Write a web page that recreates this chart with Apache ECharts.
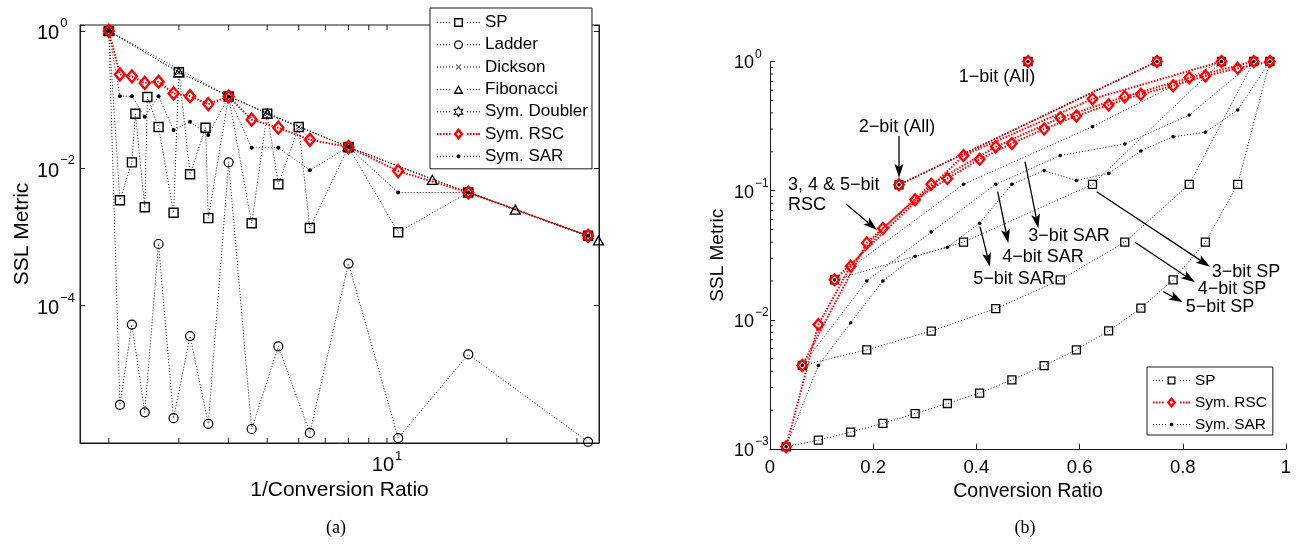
<!DOCTYPE html>
<html>
<head>
<meta charset="utf-8">
<title>SSL Metric</title>
<script src="https://cdn.jsdelivr.net/npm/echarts@6.0.0/dist/echarts.min.js"></script>
<style>
  html, body { margin: 0; padding: 0; background: #fff; }
  #chart { width: 1299px; height: 546px; }
</style>
</head>
<body>
<div id="chart"></div>
<script>
// ---------------- Panel (a): SSL metric against 1/conversion ratio ----------------
// 1/ratio on the 5-bit grid k/32, k = 16 ... 1
const invRatioA = [2, 2.133, 2.286, 2.462, 2.667, 2.909, 3.2, 3.556, 4, 4.571, 5.333, 6.4, 8, 10.667, 16, 32];
const rscA      = [1, 0.232, 0.218, 0.175, 0.182, 0.123, 0.112, 0.086, 0.111, 0.051, 0.039, 0.026, 0.0204, 0.0091, 0.00444, 0.00104];
const sarA      = [1, 0.112, 0.112, 0.0561, 0.112, 0.0362, 0.0475, 0.0305, 0.111, 0.0199, 0.0199, 0.0094, 0.0204, 0.00444, 0.00444, 0.00104];
const ladderA   = [1, 3.6e-6, 5.3e-5, 2.8e-6, 7.9e-4, 2.3e-6, 3.6e-5, 1.9e-6, 0.0122, 1.6e-6, 2.55e-5, 1.4e-6, 4.1e-4, 1.18e-6, 1.95e-5, 1.04e-6];
// series-parallel also reaches a few non-binary ratios
const invRatioSP = [2, 2.133, 2.286, 2.333, 2.462, 2.5, 2.667, 2.909, 3, 3.2, 3.5, 3.556, 4, 4.571, 5, 5.333, 6, 6.4, 8, 10.667, 16, 32];
const spA        = [1, 0.00343, 0.0122, 0.0621, 0.00271, 0.109, 0.0399, 0.00225, 0.25, 0.00819, 0.0389, 0.00188, 0.111, 0.00158, 0.0625, 0.00586, 0.04, 0.00135, 0.0204, 0.00117, 0.00444, 0.00104];
const invRatioDickson = [2, 3, 4, 5, 6, 8, 16, 32];
const dicksonA        = [1, 0.25, 0.111, 0.0625, 0.04, 0.0204, 0.00444, 0.00104];
const invRatioFib = [2, 3, 5, 8, 13, 21, 34];
const fibA        = [1, 0.25, 0.0625, 0.0204, 0.0068, 0.0025, 0.00089];
const invRatioDoubler = [2, 4, 8, 16, 32];
const doublerA        = [1, 0.111, 0.0204, 0.00444, 0.00104];
const xTicksA = [2, 3, 4, 5, 6, 7, 8, 9, 10, 20, 30];

// ---------------- Panel (b): SSL metric against conversion ratio ----------------
// values at the odd-numerator ratios k/2^n of each resolution n
const allOneBit = [1];
const allTwoBit = [0.111, 1];
const spThree  = [0.0204, 0.0399, 0.112, 1];
const spFour   = [0.00444, 0.00586, 0.00819, 0.0122, 0.0204, 0.0399, 0.112, 1];
const spFive   = [0.00104, 0.00117, 0.00135, 0.00158, 0.00188, 0.00225, 0.00271, 0.00343, 0.00442, 0.00585, 0.0082, 0.0123, 0.0204, 0.0399, 0.112, 1];
const rscThree = [0.0204, 0.187, 0.513, 1];
const rscFour  = [0.00444, 0.0394, 0.112, 0.219, 0.367, 0.534, 0.749, 1];
const rscFive  = [0.00104, 0.0092, 0.026, 0.051, 0.085, 0.124, 0.175, 0.232, 0.30, 0.379, 0.461, 0.557, 0.650, 0.773, 0.886, 1];
const sarThree = [0.0204, 0.112, 0.313, 1];
const sarFour  = [0.00444, 0.0200, 0.0478, 0.112, 0.187, 0.230, 0.385, 1];
const sarFive  = [0.00104, 0.00443, 0.0095, 0.0200, 0.031, 0.0365, 0.056, 0.112, 0.143, 0.120, 0.136, 0.203, 0.262, 0.283, 0.421, 1];
const yMinorTicksB = [0.002, 0.003, 0.004, 0.005, 0.006, 0.007, 0.008, 0.009,
                      0.02, 0.03, 0.04, 0.05, 0.06, 0.07, 0.08, 0.09,
                      0.2, 0.3, 0.4, 0.5, 0.6, 0.7, 0.8, 0.9];
// annotation arrows: [fromRatio, fromSSL, toRatio, toSSL]
const arrowsB = [
  [0.25, 0.265, 0.25, 0.1254],
  [0.1473, 0.0789, 0.2074, 0.0496],
  [0.4942, 0.1677, 0.5200, 0.0512],
  [0.4413, 0.0982, 0.4618, 0.0392],
  [0.4070, 0.0526, 0.4264, 0.0258],
  [0.6331, 0.0982, 0.8527, 0.0258],
  [0.7074, 0.0399, 0.8236, 0.0195],
  [0.7622, 0.01653, 0.7998, 0.01368]
];
// annotation texts: [text, ratio, SSL, align]
const notesB = [
  ['1\u2212bit (All)', 0.4399, 0.759, 'center'],
  ['2\u2212bit (All)', 0.2461, 0.311, 'center'],
  ['3, 4 & 5\u2212bit', 0.0349, 0.1107, 'left'],
  ['RSC', 0.0349, 0.0775, 'left'],
  ['3\u2212bit SAR', 0.5795, 0.0446, 'center'],
  ['4\u2212bit SAR', 0.5291, 0.0307, 'center'],
  ['5\u2212bit SAR', 0.4729, 0.0207, 'center'],
  ['3\u2212bit SP', 0.9225, 0.0235, 'center'],
  ['4\u2212bit SP', 0.8953, 0.0173, 'center'],
  ['5\u2212bit SP', 0.8721, 0.0126, 'center']
];

// ---------------- helpers ----------------
const FONT = '"Liberation Sans", Arial, Helvetica, sans-serif';
const SERIF = '"Liberation Serif", "Times New Roman", serif';
const zip = (xs, ys) => xs.map((x, i) => [x, ys[i]]);
const ratiosOf = n => { const d = 2 ** n, r = []; for (let k = 1; k < d; k += 2) r.push(k / d); return r; };
const hollow = (c, w) => ({ color: 'rgba(0,0,0,0)', borderColor: c, borderWidth: w });
const dottedBlack = { color: '#1a1a1a', width: 1, type: [1, 2] };
const dottedRed = { color: '#ff0000', width: 2, type: [1.5, 1.5] };

const f2 = n => +n.toFixed(2);
function polyPath(pts) { return 'M' + pts.map(p => f2(p[0]) + ',' + f2(p[1])).join('L') + 'Z'; }
function ringPath(pts, t) {
  const c = [pts.reduce((s, p) => s + p[0], 0) / pts.length, pts.reduce((s, p) => s + p[1], 0) / pts.length];
  let d = Infinity;
  for (let i = 0; i < pts.length; i++) {
    const p = pts[i], q = pts[(i + 1) % pts.length];
    const ex = q[0] - p[0], ey = q[1] - p[1];
    d = Math.min(d, Math.abs((c[0] - p[0]) * ey - (c[1] - p[1]) * ex) / Math.hypot(ex, ey));
  }
  const f = Math.max(0, (d - t) / d);
  const inner = pts.map(p => [c[0] + (p[0] - c[0]) * f, c[1] + (p[1] - c[1]) * f]).reverse();
  return polyPath(pts) + polyPath(inner);
}
function circlePath(cx, cy, r, ccw) {
  const s = ccw ? 0 : 1;
  return `M${f2(cx - r)},${f2(cy)}A${r},${r},0,1,${s},${f2(cx + r)},${f2(cy)}A${r},${r},0,1,${s},${f2(cx - r)},${f2(cy)}Z`;
}
function starPts(cx, cy, R, r, n) {
  const pts = [];
  for (let i = 0; i < 2 * n; i++) {
    const a = -Math.PI / 2 + i * Math.PI / n, rad = i % 2 ? r : R;
    pts.push([cx + rad * Math.cos(a), cy + rad * Math.sin(a)]);
  }
  return pts;
}
const hexagramSymbol = 'path://' + polyPath(starPts(0, 0, 10, 10 / Math.sqrt(3), 6));

// legend icon: dotted line with the marker in the middle
function legendIcon(w, step, dw, dh, skip, marker) {
  const cx = w / 2, cy = 7;
  let d = '';
  const xs = [];
  for (let x = 0; x <= w - dw + 1e-9; x += step) xs.push(x);
  if (xs[xs.length - 1] < w - dw - 1e-9) xs.push(w - dw);
  xs.forEach(x => {
    if (x + dw > cx - skip && x < cx + skip) return;
    d += `M${f2(x)},${f2(cy - dh / 2)}h${dw}v${dh}h${-dw}z`;
  });
  return 'path://' + d + marker(cx, cy);
}
const mkSquare = (s, t) => (cx, cy) => ringPath([[cx - s / 2, cy - s / 2], [cx + s / 2, cy - s / 2], [cx + s / 2, cy + s / 2], [cx - s / 2, cy + s / 2]], t);
const mkDiamond = (w, h, t) => (cx, cy) => ringPath([[cx, cy - h / 2], [cx + w / 2, cy], [cx, cy + h / 2], [cx - w / 2, cy]], t);
const mkTriangle = (w, h, t) => (cx, cy) => ringPath([[cx, cy - h / 2], [cx + w / 2, cy + h / 2], [cx - w / 2, cy + h / 2]], t);
const mkCircleRing = (r, t) => (cx, cy) => circlePath(cx, cy, r, false) + circlePath(cx, cy, r - t, true);
const mkDot = r => (cx, cy) => circlePath(cx, cy, r, false);
const mkHexagram = (R, t) => (cx, cy) => ringPath(starPts(cx, cy, R, R / Math.sqrt(3), 6), t);
const mkCross = s => (cx, cy) => {
  let d = '';
  for (let i = -s; i <= s; i++) {
    d += `M${f2(cx + i - 0.5)},${f2(cy + i - 0.5)}h1v1h-1z`;
    if (i !== 0) d += `M${f2(cx + i - 0.5)},${f2(cy - i - 0.5)}h1v1h-1z`;
  }
  return d;
};

function powTen(v, keep, style) {
  const lg = Math.log10(v), e = Math.round(lg);
  if (Math.abs(lg - e) > 1e-6 || !keep(e)) return '';
  const exp = e < 0 ? '\u2212' + (-e) : String(e);
  return `{b|10}{${style}|${exp}}`;
}

// tick marks for the log axes (major and minor decades)
function xTickSeries(values, len) {
  return {
    type: 'custom', xAxisIndex: 0, yAxisIndex: 0, silent: true, clip: false, z: 3,
    data: values.map(v => [v, 0.001]),
    renderItem(params, api) {
      const cs = params.coordSys;
      const x = api.coord([api.value(0), api.value(1)])[0];
      const st = { stroke: '#1a1a1a', lineWidth: 1 };
      return { type: 'group', children: [
        { type: 'line', shape: { x1: x, y1: cs.y + cs.height, x2: x, y2: cs.y + cs.height - len }, style: st },
        { type: 'line', shape: { x1: x, y1: cs.y, x2: x, y2: cs.y + len }, style: st }
      ] };
    }
  };
}
function yMinorSeries(values, len) {
  return {
    type: 'custom', xAxisIndex: 1, yAxisIndex: 2, silent: true, clip: false, z: 3,
    data: values.map(v => [0.5, v]),
    renderItem(params, api) {
      const cs = params.coordSys;
      const y = api.coord([api.value(0), api.value(1)])[1];
      return { type: 'line', shape: { x1: cs.x, y1: y, x2: cs.x + len, y2: y }, style: { stroke: '#1a1a1a', lineWidth: 1 } };
    }
  };
}

const baseLine = { type: 'line', showSymbol: true, showAllSymbol: true, symbolKeepAspect: true,
  clip: false, animation: false, silent: true, emphasis: { disabled: true } };

// ---------------- series ----------------
const seriesA = [
  { name: 'SP', data: zip(invRatioSP, spA), symbol: 'rect', symbolSize: 9, itemStyle: hollow('#000', 1.4), lineStyle: dottedBlack },
  { name: 'Ladder', data: zip(invRatioA, ladderA), symbol: 'circle', symbolSize: 9, itemStyle: hollow('#000', 1.2), lineStyle: dottedBlack },
  { name: 'Dickson', data: zip(invRatioDickson, dicksonA), symbol: 'path://M0,0L10,10M0,10L10,0', symbolSize: 5, itemStyle: hollow('#000', 1), lineStyle: dottedBlack },
  { name: 'Fibonacci', data: zip(invRatioFib, fibA), symbol: 'triangle', symbolSize: [10, 9], itemStyle: hollow('#000', 1.3), lineStyle: dottedBlack },
  { name: 'Sym. Doubler', data: zip(invRatioDoubler, doublerA), symbol: hexagramSymbol, symbolSize: 11, itemStyle: hollow('#000', 1.1), lineStyle: dottedBlack },
  { name: 'Sym. RSC', data: zip(invRatioA, rscA), symbol: 'diamond', symbolSize: [10, 12], itemStyle: hollow('#ff0000', 2.4), lineStyle: dottedRed },
  { name: 'Sym. SAR', data: zip(invRatioA, sarA), symbol: 'circle', symbolSize: 4, itemStyle: { color: '#000', borderWidth: 0 }, lineStyle: dottedBlack }
].map(s => Object.assign({}, baseLine, s, { xAxisIndex: 0, yAxisIndex: 0 }));

const bitSets = (one, two, three, four, five) => [[1, one], [2, two], [3, three], [4, four], [5, five]];
const seriesB = [];
bitSets(allOneBit, allTwoBit, spThree, spFour, spFive).forEach(([n, v]) => seriesB.push(
  { name: 'SP', data: zip(ratiosOf(n), v), symbol: 'rect', symbolSize: 8, itemStyle: hollow('#000', 1.3), lineStyle: dottedBlack }));
bitSets(allOneBit, allTwoBit, rscThree, rscFour, rscFive).forEach(([n, v]) => seriesB.push(
  { name: 'Sym. RSC', data: zip(ratiosOf(n), v), symbol: 'diamond', symbolSize: [9.5, 11], itemStyle: hollow('#ff0000', 2.3), lineStyle: dottedRed }));
bitSets(allOneBit, allTwoBit, sarThree, sarFour, sarFive).forEach(([n, v]) => seriesB.push(
  { name: 'Sym. SAR', data: zip(ratiosOf(n), v), symbol: 'circle', symbolSize: 3.6, itemStyle: { color: '#000', borderWidth: 0 }, lineStyle: dottedBlack }));
seriesB.forEach((s, i) => { seriesB[i] = Object.assign({}, baseLine, s, { xAxisIndex: 1, yAxisIndex: 2 }); });

// ---------------- legends ----------------
const legendItem = (name, icon, color) => ({ name, icon, itemStyle: { color, borderWidth: 0, opacity: 1 } });
const legendA = [
  legendItem('SP', legendIcon(43, 3, 1, 1, 7, mkSquare(9, 1.4)), '#000'),
  legendItem('Ladder', legendIcon(43, 3, 1, 1, 7, mkCircleRing(4.5, 1.2)), '#000'),
  legendItem('Dickson', legendIcon(43, 3, 1, 1, 4, mkCross(2)), '#000'),
  legendItem('Fibonacci', legendIcon(43, 3, 1, 1, 7, mkTriangle(10, 9, 1.3)), '#000'),
  legendItem('Sym. Doubler', legendIcon(43, 3, 1, 1, 7, mkHexagram(6, 1.1)), '#000'),
  legendItem('Sym. RSC', legendIcon(43, 3, 1.6, 2, 7, mkDiamond(10, 12, 2.4)), '#ff0000'),
  legendItem('Sym. SAR', legendIcon(43, 3, 1, 1, 4, mkDot(2)), '#000')
];
const legendB = [
  legendItem('SP', legendIcon(37, 3, 1, 1, 6, mkSquare(8, 1.3)), '#000'),
  legendItem('Sym. RSC', legendIcon(37, 3, 1.6, 2, 7, mkDiamond(9.5, 11, 2.3)), '#ff0000'),
  legendItem('Sym. SAR', legendIcon(37, 3, 1, 1, 4, mkDot(1.8)), '#000')
];

// power-of-ten labels: base and raised exponent, both top-aligned in the line box
const richAY = {
  b: { fontFamily: FONT, fontSize: 20, lineHeight: 20, color: '#000', verticalAlign: 'top', padding: [7, 0, 5, 0] },
  e: { fontFamily: FONT, fontSize: 13, lineHeight: 13, color: '#000', verticalAlign: 'top', padding: [0, 0, 0, 1] }
};
const richAX = {
  b: { fontFamily: FONT, fontSize: 20, lineHeight: 20, color: '#000', verticalAlign: 'top', padding: [5, 0, 0, 0] },
  e: { fontFamily: FONT, fontSize: 13, lineHeight: 13, color: '#000', verticalAlign: 'top', padding: [0, 0, 0, 1] }
};
const richBY = {
  b: { fontFamily: FONT, fontSize: 18, lineHeight: 18, color: '#000', verticalAlign: 'top', padding: [6, 0, 9, 0] },
  e: { fontFamily: FONT, fontSize: 12, lineHeight: 12, color: '#000', verticalAlign: 'top', padding: [0, 0, 0, 1] }
};
const axisLineStyle = { show: true, lineStyle: { color: '#1a1a1a', width: 1 } };
const nameStyle = size => ({ fontFamily: FONT, fontSize: size, color: '#000' });

const chart = echarts.init(document.getElementById('chart'), null, { renderer: 'canvas' });
const option = {
  backgroundColor: '#fff',
  animation: false,
  grid: [
    { left: 80, top: 25, width: 519, height: 418, show: true, borderColor: '#1a1a1a', borderWidth: 1, backgroundColor: 'transparent', containLabel: false, outerBoundsMode: 'none' },
    { left: 770, top: 61.5, width: 516, height: 387.5, show: false, containLabel: false, outerBoundsMode: 'none' }
  ],
  xAxis: [
    { type: 'log', gridIndex: 0, min: 1.693, max: 34.09, logBase: 10,
      axisLine: axisLineStyle, axisTick: { show: false }, splitLine: { show: false }, minorTick: { show: false },
      axisLabel: { margin: 7, formatter: v => powTen(v, () => true, 'e'), rich: richAX, hideOverlap: false },
      name: '1/Conversion Ratio', nameLocation: 'middle', nameGap: 34, nameTextStyle: nameStyle(21) },
    { type: 'value', gridIndex: 1, min: 0, max: 1, interval: 0.2,
      axisLine: axisLineStyle, axisTick: { show: true, inside: true, length: 5, lineStyle: { color: '#1a1a1a' } }, splitLine: { show: false },
      axisLabel: { margin: 9, fontFamily: FONT, fontSize: 18.5, color: '#000', formatter: v => String(Math.round(v * 10) / 10) },
      name: 'Conversion Ratio', nameLocation: 'middle', nameGap: 29, nameTextStyle: nameStyle(19.5) }
  ],
  yAxis: [
    { type: 'log', gridIndex: 0, min: 1e-6, max: 1.22, interval: 2, logBase: 10,
      axisLine: axisLineStyle, axisTick: { show: true, inside: true, length: 5, lineStyle: { color: '#1a1a1a' } }, splitLine: { show: false },
      axisLabel: { margin: 43, align: 'left', padding: [0, 0, 8, 0], formatter: v => powTen(v, e => e % 2 === 0 && e > -6, 'e'), rich: richAY, hideOverlap: false },
      name: 'SSL Metric', nameLocation: 'middle', nameGap: 46, nameTextStyle: nameStyle(21) },
    { type: 'log', gridIndex: 0, min: 1e-6, max: 1.22, interval: 2, logBase: 10, position: 'right',
      axisLine: axisLineStyle, axisTick: { show: true, inside: true, length: 5, lineStyle: { color: '#1a1a1a' } }, splitLine: { show: false },
      axisLabel: { show: false } },
    { type: 'log', gridIndex: 1, min: 1e-3, max: 1, logBase: 10,
      axisLine: axisLineStyle, axisTick: { show: true, inside: true, length: 5, lineStyle: { color: '#1a1a1a' } }, splitLine: { show: false },
      axisLabel: { margin: 36, align: 'left', padding: [0, 0, 8, 0], formatter: v => powTen(v, () => true, 'e'), rich: richBY, hideOverlap: false },
      name: 'SSL Metric', nameLocation: 'middle', nameGap: 43, nameTextStyle: nameStyle(19) }
  ],
  legend: [
    { orient: 'vertical', left: 430, top: 8, itemWidth: 43, itemHeight: 14, itemGap: 5.3, padding: [6, 4, 4, 7],
      backgroundColor: '#fff', borderColor: '#1a1a1a', borderWidth: 1, selectedMode: false, symbolKeepAspect: true,
      textStyle: { fontFamily: FONT, fontSize: 17, color: '#000', lineHeight: 16 }, data: legendA, z: 10 },
    { orient: 'vertical', left: 1147, top: 367, itemWidth: 37, itemHeight: 12, itemGap: 7, padding: [6, 6, 3, 6],
      backgroundColor: '#fff', borderColor: '#1a1a1a', borderWidth: 1, selectedMode: false, symbolKeepAspect: true,
      textStyle: { fontFamily: FONT, fontSize: 15.4, color: '#000', lineHeight: 14 }, data: legendB, z: 10 }
  ],
  series: [...seriesA, xTickSeries(xTicksA, 5), ...seriesB, yMinorSeries(yMinorTicksB, 3)]
};
chart.setOption(option);

// annotations of panel (b) and the panel captions
function drawNotes() {
  const toPx = p => chart.convertToPixel({ xAxisIndex: 1, yAxisIndex: 2 }, p);
  const els = [];
  arrowsB.forEach(([x0, y0, x1, y1]) => {
    const a = toPx([x0, y0]), b = toPx([x1, y1]);
    const dx = b[0] - a[0], dy = b[1] - a[1], L = Math.hypot(dx, dy);
    const ux = dx / L, uy = dy / L, nx = -uy, ny = ux;
    const head = 14, half = 4.5, notch = 3;
    const bx = b[0] - ux * head, by = b[1] - uy * head;
    const mx = b[0] - ux * (head - notch), my = b[1] - uy * (head - notch);
    els.push({ type: 'line', silent: true, shape: { x1: a[0], y1: a[1], x2: mx, y2: my }, style: { stroke: '#000', lineWidth: 1.3 } });
    els.push({ type: 'polygon', silent: true, shape: { points: [[b[0], b[1]], [bx + nx * half, by + ny * half], [mx, my], [bx - nx * half, by - ny * half]] }, style: { fill: '#000' } });
  });
  notesB.forEach(([text, x, y, align]) => {
    const p = toPx([x, y]);
    els.push({ type: 'text', silent: true, x: p[0], y: p[1], style: { text, fontFamily: FONT, fontSize: 18, fill: '#000', align, verticalAlign: 'middle' } });
  });
  els.push({ type: 'text', silent: true, x: 336, y: 528, style: { text: '(a)', fontFamily: SERIF, fontSize: 18, fill: '#000', align: 'center', verticalAlign: 'middle' } });
  els.push({ type: 'text', silent: true, x: 1025, y: 528, style: { text: '(b)', fontFamily: SERIF, fontSize: 18, fill: '#000', align: 'center', verticalAlign: 'middle' } });
  chart.setOption({ graphic: { elements: els } });
}
drawNotes();
</script>
</body>
</html>
